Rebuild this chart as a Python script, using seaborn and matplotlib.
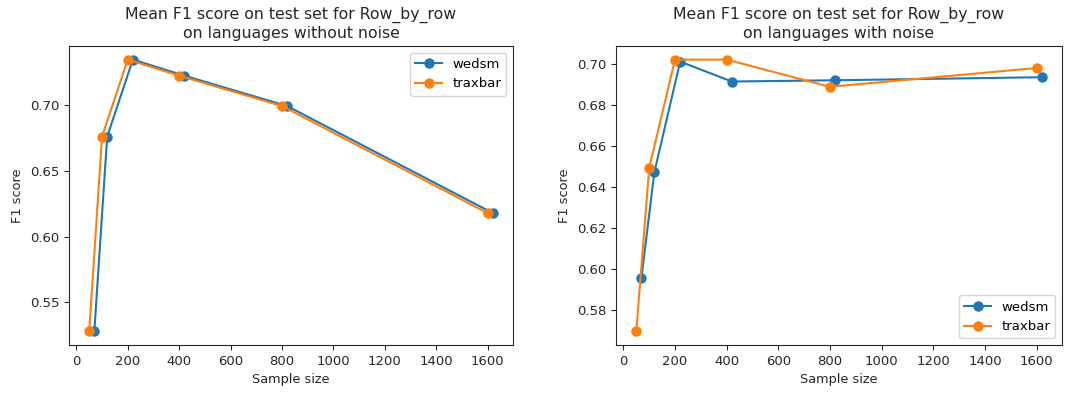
import matplotlib
matplotlib.use("Agg")
import matplotlib.pyplot as plt
import seaborn as sns
import pandas as pd

wedsm_x = [70, 120, 220, 420, 820, 1620]
traxbar_x = [50, 100, 200, 400, 800, 1600]

clean_wedsm = [0.528, 0.676, 0.7345, 0.7223, 0.6992, 0.6179]
clean_traxbar = [0.528, 0.676, 0.7345, 0.7223, 0.6992, 0.6179]

noise_wedsm = [0.5955, 0.6471, 0.7011, 0.6914, 0.6920, 0.6935]
noise_traxbar = [0.5694, 0.6492, 0.7021, 0.7021, 0.6888, 0.6980]

titles = ["Mean F1 score on test set for Row_by_row\non languages without noise",
          "Mean F1 score on test set for Row_by_row\non languages with noise"]
legend_locs = ["upper right", "lower right"]
series_names = ["wedsm", "traxbar"]
colors = ["#1f77b4", "#ff7f0e"]

fig = plt.figure(figsize=(10.78, 3.94), dpi=100)
ax1 = fig.add_axes([69/1078, 1 - 345/394, 444/1078, 299/394])
ax2 = fig.add_axes([616/1078, 1 - 345/394, 446/1078, 299/394])

panels = [(ax1, clean_wedsm, clean_traxbar), (ax2, noise_wedsm, noise_traxbar)]
for i, (ax, w, t) in enumerate(panels):
    for name, xs, ys, c in [(series_names[0], wedsm_x, w, colors[0]),
                            (series_names[1], traxbar_x, t, colors[1])]:
        df = pd.DataFrame({"Sample size": xs, "F1 score": ys})
        sns.lineplot(data=df, x="Sample size", y="F1 score", ax=ax, color=c,
                     marker="o", markersize=7.5, markeredgewidth=0,
                     linewidth=1.5, label=name, legend=False)
    for ln in ax.lines:
        ln.set_markeredgecolor(ln.get_color())
    ax.set_title(titles[i], fontsize=11.3, color="#262626")
    ax.set_xlabel("Sample size", fontsize=9.3, color="#262626")
    ax.set_ylabel("F1 score", fontsize=9.3, color="#262626")
    ax.tick_params(labelsize=9.5, colors="#262626")
    ax.set_xticks([0, 200, 400, 600, 800, 1000, 1200, 1400, 1600])
    for s in ax.spines.values():
        s.set_color("#262626")
    ax.legend(loc=legend_locs[i], fontsize=9.5)

ax1.set_yticks([0.55, 0.60, 0.65, 0.70])
ax2.set_yticks([0.58, 0.60, 0.62, 0.64, 0.66, 0.68, 0.70])

fig.savefig("out.png", dpi=100)
